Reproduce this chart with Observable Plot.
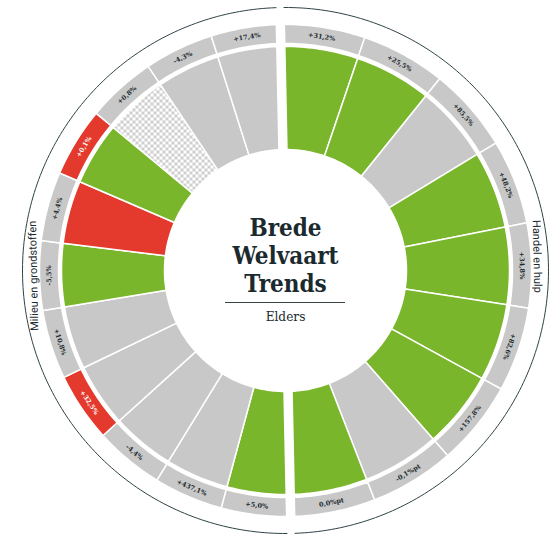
<!DOCTYPE html>
<html>
<head>
<meta charset="utf-8">
<script src="https://cdn.jsdelivr.net/npm/d3@7"></script>
<script src="https://cdn.jsdelivr.net/npm/@observablehq/plot@0.6"></script>
<style>
  html, body { margin: 0; padding: 0; background: #ffffff; }
  #chart svg { display: block; }
</style>
</head>
<body>
<div id="chart"></div>
<script>
// ---------- data ----------
const groups = ["Handel en hulp", "Milieu en grondstoffen"];

// right half (clockwise from top)
const rightLabels = ["+31,2%", "+25,5%", "+85,5%", "+48,2%", "+34,8%", "+82,6%", "+157,8%", "-0,1%pt", "0,0%pt"];
const rightStatus = ["green", "green", "grey", "green", "green", "green", "green", "grey", "green"];
const rightBand   = ["grey", "grey", "grey", "grey", "grey", "grey", "grey", "grey", "grey"];

// left half (clockwise from bottom)
const leftLabels = ["+5,0%", "+437,1%", "-4,4%", "+32,5%", "+10,8%", "-5,5%", "+4,4%", "+0,1%", "+0,8%", "-4,3%", "+17,4%"];
const leftStatus = ["green", "grey", "grey", "grey", "grey", "green", "red", "green", "dotted", "grey", "grey"];
const leftBand   = ["grey", "grey", "grey", "red", "grey", "grey", "grey", "red", "grey", "grey", "grey"];

const titleLines = ["Brede", "Welvaart", "Trends"];
const subtitle = "Elders";

// ---------- styling / geometry ----------
const W = 549, H = 535;
const cx = 285, cy = 270;
const R0 = 121, R1 = 224, B0 = 227, B1 = 246, RA = 263;
const halfGap = 4;
const rot = -1.2;
const colors = {green: "#79b62b", grey: "#c8c8c8", red: "#e43a2d", dotted: "url(#dots)"};
const dark = "#1b2a2e";

const rad = d => d * Math.PI / 180;
function pt(r, deg) {
  const t = rad(deg + rot);
  return {x: r * Math.sin(t), y: r * Math.cos(t)};
}
function clampAngles(h, r, a0, a1) {
  const g = Math.asin(halfGap / r) * 180 / Math.PI;
  const lo = h === 0 ? g : 180 + g;
  const hi = h === 0 ? 180 - g : 360 - g;
  return [Math.max(a0, lo), Math.min(a1, hi)];
}
function arcPts(h, r, a0, a1) {
  const [s, e] = clampAngles(h, r, a0, a1);
  const n = Math.max(2, Math.ceil(Math.abs(e - s)));
  return d3.range(n + 1).map(k => pt(r, s + (e - s) * k / n));
}
function wedge(h, r0, r1, a0, a1) {
  const outer = arcPts(h, r1, a0, a1);
  const inner = arcPts(h, r0, a0, a1).reverse();
  const pts = outer.concat(inner);
  pts.push(pts[0]);
  return pts;
}

// build segments
const segs = [];
[[rightLabels, rightStatus, rightBand], [leftLabels, leftStatus, leftBand]].forEach(([labs, st, bd], h) => {
  const n = labs.length;
  const step = 180 / n;
  labs.forEach((lab, i) => {
    const a0 = h * 180 + i * step, a1 = a0 + step;
    const mid = (a0 + a1) / 2;
    let r;
    if (h === 0) r = mid <= 120 ? mid : mid - 180;
    else r = mid < 270 ? mid - 180 : mid - 360;
    const p = pt((B0 + B1) / 2, mid);
    segs.push({h, i, label: lab, status: st[i], band: bd[i], a0, a1, mid,
      lx: p.x, ly: p.y, lrot: r + rot});
  });
});

const marks = [];
// bars
segs.forEach(s => {
  marks.push(Plot.line(wedge(s.h, R0, R1, s.a0, s.a1), {x: "x", y: "y", fill: colors[s.status], stroke: "white", strokeWidth: 1.5}));
});
// band
segs.forEach(s => {
  marks.push(Plot.line(wedge(s.h, B0, B1, s.a0, s.a1), {x: "x", y: "y", fill: colors[s.band], stroke: "white", strokeWidth: 1.5}));
});
// band labels
marks.push(Plot.text(segs.filter(s => s.band !== "red"), {x: "lx", y: "ly", text: "label", rotate: "lrot", fontSize: 6.5, fontWeight: "bold", fontFamily: "DejaVu Serif", fill: dark}));
marks.push(Plot.text(segs.filter(s => s.band === "red"), {x: "lx", y: "ly", text: "label", rotate: "lrot", fontSize: 6.5, fontWeight: "bold", fontFamily: "DejaVu Serif", fill: "white"}));

// outer arcs
[0, 1].forEach(h => {
  marks.push(Plot.line(arcPts(h, RA, h * 180, h * 180 + 180), {x: "x", y: "y", stroke: "#2f4346", strokeWidth: 1}));
});

// group labels
const groupPos = [{name: groups[0], ang: 88, r: 90}, {name: groups[1], ang: 270, r: -90}].map(g => {
  const p = pt(252, g.ang);
  return {name: g.name, x: p.x, y: p.y, rot: g.r + rot};
});
marks.push(Plot.text(groupPos, {x: "x", y: "y", text: "name", rotate: "rot", fontSize: 11, fontFamily: "Roboto", fill: dark}));

// center title
const titleData = titleLines.map((t, k) => ({t, y: 42 - k * 28}));
marks.push(Plot.text(titleData, {x: () => 0, y: "y", text: "t", fontSize: 24, fontWeight: "bold", fontFamily: "DejaVu Serif Condensed, DejaVu Serif", fill: dark}));
marks.push(Plot.ruleY([-32], {x1: -60, x2: 60, stroke: "#3a4548", strokeWidth: 1}));
marks.push(Plot.text([subtitle], {x: () => 0, y: () => -46, text: d => d, fontSize: 13.5, fontFamily: "DejaVu Serif Condensed, DejaVu Serif", fill: dark}));

const svg = Plot.plot({
  width: W, height: H,
  margin: 0,
  x: {domain: [-cx, W - cx], axis: null},
  y: {domain: [-(H - cy), cy], axis: null},
  marks
});

// dotted pattern definition
const ns = "http://www.w3.org/2000/svg";
const defs = document.createElementNS(ns, "defs");
defs.innerHTML = '<pattern id="dots" width="6" height="6" patternUnits="userSpaceOnUse">' +
  '<rect width="6" height="6" fill="#ffffff"/>' +
  '<rect width="3" height="3" fill="#cfcfcf"/>' +
  '<rect x="3" y="3" width="3" height="3" fill="#cfcfcf"/></pattern>';
svg.insertBefore(defs, svg.firstChild);

document.getElementById("chart").appendChild(svg);
</script>
</body>
</html>
